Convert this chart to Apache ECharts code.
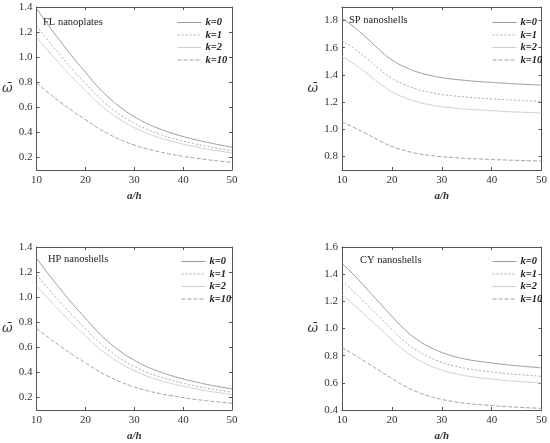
<!DOCTYPE html>
<html lang="en">
<head>
  <meta charset="UTF-8">
  <title>omega vs a/h</title>
  <script src="https://cdn.jsdelivr.net/npm/echarts@6/dist/echarts.min.js"></script>
</head>
<body style="margin:0;background:#fff">
  <div id="container" style="width:550px;height:443px;"></div>
  <script>
    // a/h values shared by all four panels
    var ah = [10, 12.5, 15, 17.5, 20, 22.5, 25, 27.5, 30, 32.5, 35, 37.5, 40, 42.5, 45, 47.5, 50];
    var kNames = ['k=0', 'k=1', 'k=2', 'k=10'];

    // FL nanoplates
    var fl_k0 = [1.39, 1.25, 1.12, 0.995, 0.88, 0.765, 0.67, 0.59, 0.525, 0.473, 0.431, 0.396, 0.367, 0.342, 0.32, 0.30, 0.282];
    var fl_k1 = [1.25, 1.125, 1.01, 0.895, 0.79, 0.69, 0.60, 0.53, 0.473, 0.426, 0.388, 0.356, 0.33, 0.308, 0.288, 0.27, 0.254];
    var fl_k2 = [1.161, 1.044, 0.935, 0.831, 0.735, 0.639, 0.559, 0.493, 0.438, 0.395, 0.36, 0.331, 0.306, 0.286, 0.267, 0.251, 0.235];
    var fl_k10 = [0.792, 0.713, 0.638, 0.567, 0.502, 0.436, 0.382, 0.336, 0.299, 0.27, 0.246, 0.226, 0.209, 0.195, 0.182, 0.171, 0.161];

    // SP nanoshells
    var sp_k0 = [1.82, 1.75, 1.67, 1.585, 1.51, 1.46, 1.423, 1.398, 1.38, 1.368, 1.359, 1.351, 1.345, 1.339, 1.334, 1.329, 1.325];
    var sp_k1 = [1.656, 1.593, 1.52, 1.442, 1.374, 1.329, 1.295, 1.272, 1.256, 1.245, 1.237, 1.229, 1.224, 1.218, 1.214, 1.209, 1.206];
    var sp_k2 = [1.538, 1.479, 1.411, 1.339, 1.276, 1.234, 1.202, 1.181, 1.166, 1.156, 1.148, 1.142, 1.137, 1.131, 1.127, 1.123, 1.12];
    var sp_k10 = [1.052, 1.012, 0.965, 0.916, 0.873, 0.844, 0.822, 0.808, 0.798, 0.791, 0.785, 0.781, 0.777, 0.774, 0.771, 0.768, 0.766];

    // HP nanoshells
    var hp_k0 = [1.31, 1.18, 1.058, 0.94, 0.832, 0.723, 0.633, 0.558, 0.497, 0.447, 0.408, 0.375, 0.348, 0.324, 0.303, 0.285, 0.268];
    var hp_k1 = [1.18, 1.062, 0.952, 0.846, 0.749, 0.651, 0.57, 0.502, 0.447, 0.402, 0.367, 0.338, 0.313, 0.292, 0.273, 0.257, 0.242];
    var hp_k2 = [1.09, 0.982, 0.88, 0.782, 0.692, 0.602, 0.527, 0.464, 0.414, 0.372, 0.339, 0.312, 0.29, 0.27, 0.252, 0.237, 0.223];
    var hp_k10 = [0.75, 0.675, 0.605, 0.538, 0.476, 0.414, 0.362, 0.319, 0.284, 0.256, 0.233, 0.215, 0.199, 0.185, 0.173, 0.163, 0.153];

    // CY nanoshells
    var cy_k0 = [1.48, 1.39, 1.29, 1.19, 1.09, 0.995, 0.92, 0.865, 0.824, 0.794, 0.773, 0.758, 0.746, 0.735, 0.726, 0.718, 0.71];
    var cy_k1 = [1.35, 1.268, 1.176, 1.085, 0.994, 0.907, 0.839, 0.789, 0.751, 0.724, 0.705, 0.691, 0.68, 0.67, 0.662, 0.655, 0.648];
    var cy_k2 = [1.246, 1.17, 1.086, 1.002, 0.918, 0.838, 0.775, 0.728, 0.694, 0.669, 0.651, 0.638, 0.628, 0.619, 0.611, 0.605, 0.598];
    var cy_k10 = [0.858, 0.806, 0.748, 0.69, 0.632, 0.577, 0.534, 0.502, 0.478, 0.461, 0.448, 0.44, 0.433, 0.426, 0.421, 0.416, 0.412];

    // tick labels
    var xTicks = [10, 20, 30, 40, 50];
    var flTicks = [0.2, 0.4, 0.6, 0.8, 1.0, 1.2, 1.4];
    var spTicks = [0.8, 1.0, 1.2, 1.4, 1.6, 1.8];
    var hpTicks = [0.2, 0.4, 0.6, 0.8, 1.0, 1.2, 1.4];
    var cyTicks = [0.4, 0.6, 0.8, 1.0, 1.2, 1.4, 1.6];

    var panels = [
      { title: 'FL nanoplates', data: [fl_k0, fl_k1, fl_k2, fl_k10], ticks: flTicks, min: 0.1, max: 1.4,
        grid: { left: 32, top: 7, width: 200, height: 163 }, tl: [43, 17], lg: [177, 17] },
      { title: 'SP nanoshells', data: [sp_k0, sp_k1, sp_k2, sp_k10], ticks: spTicks, min: 0.7, max: 1.9,
        grid: { left: 342, top: 7, width: 201, height: 163 }, tl: [349, 15], lg: [492, 17] },
      { title: 'HP nanoshells', data: [hp_k0, hp_k1, hp_k2, hp_k10], ticks: hpTicks, min: 0.1, max: 1.4,
        grid: { left: 31, top: 247, width: 201, height: 164 }, tl: [48, 254], lg: [181, 256] },
      { title: 'CY nanoshells', data: [cy_k0, cy_k1, cy_k2, cy_k10], ticks: cyTicks, min: 0.4, max: 1.6,
        grid: { left: 342, top: 247, width: 201, height: 164 }, tl: [360, 255], lg: [492, 256] }
    ];

    var lineStyles = [
      { color: '#9a9a9a', width: 1, type: 'solid' },
      { color: '#adadad', width: 1, type: [2, 2] },
      { color: '#cfcfcf', width: 1, type: 'solid' },
      { color: '#a0a0a0', width: 1, type: [4, 2] }
    ];

    var font = 'Liberation Serif';
    var axisColor = '#555';

    var option = { backgroundColor: '#fff', animation: false,
      grid: [], xAxis: [], yAxis: [], series: [], title: [], legend: [] };

    panels.forEach(function (p, i) {
      option.grid.push(p.grid);
      // bottom axis
      option.xAxis.push({
        type: 'value', gridIndex: i, min: 10, max: 50, position: 'bottom',
        name: 'a/h', nameLocation: 'middle', nameGap: 21,
        nameTextStyle: { fontFamily: font, fontStyle: 'italic', fontWeight: 'bold', fontSize: 11, color: '#333' },
        axisLine: { lineStyle: { color: axisColor } },
        axisTick: { inside: true, length: 3, customValues: xTicks, lineStyle: { color: axisColor } },
        axisLabel: { customValues: xTicks, margin: 5, fontFamily: font, fontSize: 11, color: '#333' },
        splitLine: { show: false }
      });
      // top box edge
      option.xAxis.push({
        type: 'value', gridIndex: i, min: 10, max: 50, position: 'top',
        axisLine: { lineStyle: { color: axisColor } },
        axisTick: { inside: true, length: 3, customValues: xTicks, lineStyle: { color: axisColor } },
        axisLabel: { show: false }, splitLine: { show: false }
      });
      // left axis
      option.yAxis.push({
        type: 'value', gridIndex: i, min: p.min, max: p.max, position: 'left',
        name: '\u03C9\u0304', nameLocation: 'middle', nameRotate: 0, nameGap: 24,
        nameTextStyle: { fontFamily: 'DejaVu Serif', fontStyle: 'italic', fontSize: 13, color: '#333' },
        axisLine: { show: true, lineStyle: { color: axisColor } },
        axisTick: { show: true, inside: true, length: 3, customValues: p.ticks, lineStyle: { color: axisColor } },
        axisLabel: { customValues: p.ticks, margin: 4, fontFamily: font, fontSize: 11, color: '#333',
          formatter: function (v) { return v.toFixed(1); } },
        splitLine: { show: false }
      });
      // right box edge
      option.yAxis.push({
        type: 'value', gridIndex: i, min: p.min, max: p.max, position: 'right',
        axisLine: { show: true, lineStyle: { color: axisColor } },
        axisTick: { show: true, inside: true, length: 3, customValues: p.ticks, lineStyle: { color: axisColor } },
        axisLabel: { show: false }, splitLine: { show: false }
      });

      p.data.forEach(function (vals, j) {
        option.series.push({
          name: kNames[j], type: 'line', xAxisIndex: 2 * i, yAxisIndex: 2 * i,
          data: ah.map(function (x, n) { return [x, vals[n]]; }),
          smooth: true, showSymbol: false, symbol: 'none',
          lineStyle: lineStyles[j], itemStyle: { color: lineStyles[j].color }
        });
      });

      option.title.push({
        text: p.title, left: p.tl[0], top: p.tl[1], padding: 0,
        textStyle: { fontFamily: font, fontWeight: 'normal', fontSize: 10.5, color: '#222' }
      });
      option.legend.push({
        data: kNames, orient: 'vertical', left: p.lg[0], top: p.lg[1],
        itemWidth: 24, itemHeight: 8, itemGap: 1.5, padding: 0,
        selectedMode: false,
        itemStyle: { opacity: 0 },
        lineStyle: { width: 1 },
        textStyle: { fontFamily: font, fontStyle: 'italic', fontWeight: 'bold', fontSize: 10.5, color: '#222', padding: [0, 0, 0, -1] }
      });
    });

    var myChart = echarts.init(document.getElementById('container'));
    myChart.setOption(option);
  </script>
</body>
</html>
